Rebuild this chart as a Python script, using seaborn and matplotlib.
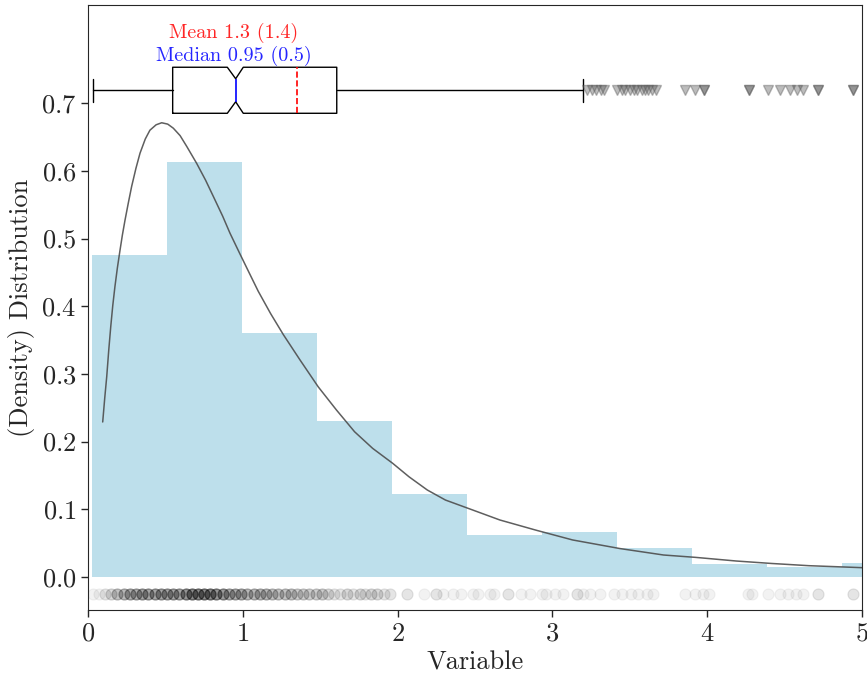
import numpy as np
import matplotlib
matplotlib.use("Agg")
import matplotlib.pyplot as plt
import seaborn as sns

# Histogram (density) read as bin edges and heights
bin_edges = [0.026, 0.511, 0.995, 1.480, 1.964, 2.449, 2.933, 3.418, 3.902, 4.387, 4.871, 5.356]
bin_heights = [0.476, 0.613, 0.360, 0.230, 0.123, 0.062, 0.066, 0.043, 0.019, 0.015, 0.021]

# Fitted density curve
curve_x = [0.095, 0.108, 0.121, 0.134, 0.147, 0.160, 0.174, 0.190, 0.207, 0.222,
           0.239, 0.260, 0.282, 0.310, 0.336, 0.370, 0.400, 0.440, 0.476, 0.515,
           0.551, 0.595, 0.638, 0.702, 0.760, 0.810, 0.870, 0.917, 0.980, 1.042,
           1.100, 1.180, 1.262, 1.370, 1.487, 1.605, 1.722, 1.839, 1.968, 2.074,
           2.192, 2.309, 2.461, 2.661, 2.897, 3.131, 3.437, 3.718, 3.925, 4.189,
           4.416, 4.658, 5.000]
curve_y = [0.229, 0.264, 0.296, 0.335, 0.370, 0.401, 0.429, 0.457, 0.483, 0.505,
           0.527, 0.552, 0.577, 0.604, 0.626, 0.647, 0.660, 0.668, 0.671, 0.669,
           0.663, 0.652, 0.636, 0.611, 0.586, 0.562, 0.533, 0.508, 0.478, 0.449,
           0.422, 0.389, 0.358, 0.3205, 0.281, 0.2467, 0.2146, 0.190, 0.168, 0.148,
           0.1285, 0.1137, 0.101, 0.0842, 0.069, 0.0547, 0.042, 0.0325, 0.029, 0.0236,
           0.020, 0.0167, 0.0138]

# Box-plot summary
box_q1, box_med, box_q3 = 0.547, 0.954, 1.607
box_whislo, box_whishi = 0.030, 3.198
box_cilo, box_cihi = 0.900, 1.003
box_mean = 1.348
box_fliers = [3.221, 3.254, 3.282, 3.312, 3.336, 3.415, 3.447, 3.469, 3.501, 3.527,
              3.549, 3.577, 3.598, 3.620, 3.641, 3.667, 3.857, 3.921, 3.979, 3.979,
              4.272, 4.272, 4.395, 4.470, 4.535, 4.578, 4.617, 4.718, 4.718,
              4.944, 4.944]

# Rug of observations: positions and how many observations sit at each
rug_pos = [0.03, 0.07, 0.11, 0.15, 0.19, 0.23, 0.27, 0.31, 0.35, 0.39, 0.43, 0.47,
           0.51, 0.55, 0.59, 0.63, 0.67, 0.71, 0.75, 0.79, 0.83, 0.87, 0.91, 0.95,
           0.99, 1.03, 1.07, 1.11, 1.15, 1.19, 1.23, 1.27, 1.31, 1.35, 1.39, 1.43,
           1.47, 1.51, 1.55, 1.59, 1.63, 1.67, 1.71, 1.757, 1.79, 1.83, 1.87, 1.91,
           1.95, 2.06, 2.17, 2.25, 2.295, 2.36, 2.41, 2.49, 2.52, 2.60, 2.62, 2.715,
           2.80, 2.855, 2.93, 2.96, 3.02, 3.07, 3.157, 3.20, 3.24, 3.31, 3.40, 3.45,
           3.51, 3.555, 3.61, 3.65, 3.857, 3.92, 3.975, 4.01, 4.266, 4.287, 4.395,
           4.47, 4.525, 4.575, 4.617, 4.718, 4.944]
rug_cnt = [1, 1, 2, 3, 5, 6, 7, 7, 8, 8, 8, 8,
           8, 8, 8, 10, 11, 11, 11, 11, 10, 9, 7, 7,
           7, 6, 6, 6, 6, 5, 5, 5, 5, 4, 4, 4,
           4, 4, 3, 2, 2, 3, 2, 3, 2, 3, 3, 2,
           2, 2, 1, 2, 1, 1, 1, 1, 1, 1, 1, 2,
           1, 1, 1, 1, 1, 1, 2, 1, 1, 1, 1, 1,
           1, 1, 1, 1, 1, 1, 1, 1, 1, 1, 1,
           1, 1, 1, 1, 2, 2]

mean_text = "Mean 1.3 (1.4)"
median_text = "Median 0.95 (0.5)"
x_label = "Variable"
y_label = "(Density) Distribution"

sns.set_style("ticks")
plt.rcParams["font.family"] = ["cmr10", "DejaVu Serif"]
plt.rcParams["mathtext.fontset"] = "cm"
plt.rcParams["axes.formatter.use_mathtext"] = True
plt.rcParams["axes.unicode_minus"] = False

fig = plt.figure(figsize=(8.67, 6.81), dpi=100)
ax = fig.add_axes([0.1015, 0.1043, 0.8927, 0.8884])

# histogram bars
centers = [(a + b) / 2 for a, b in zip(bin_edges[:-1], bin_edges[1:])]
sns.histplot(x=centers, weights=bin_heights, bins=bin_edges, stat="count",
             color="lightblue", alpha=0.8, linewidth=0, ax=ax)

# density curve
sns.lineplot(x=curve_x, y=curve_y, color="0.3", linewidth=1.1, alpha=0.9, ax=ax)

# rug of raw observations
rug_x = np.repeat(rug_pos, rug_cnt)
sns.scatterplot(x=rug_x, y=np.full(len(rug_x), -0.0251), color="black",
                alpha=0.05, s=64, linewidth=0.8, edgecolor="black", ax=ax,
                legend=False)

# notched horizontal box plot above the histogram
stats = [dict(med=box_med, q1=box_q1, q3=box_q3, whislo=box_whislo,
              whishi=box_whishi, cilo=box_cilo, cihi=box_cihi, mean=box_mean,
              fliers=box_fliers)]
ax.bxp(stats, positions=[0.719], widths=0.068, vert=False, shownotches=True,
       showmeans=True, meanline=True, manage_ticks=False,
       boxprops=dict(color="black", linewidth=1.0),
       whiskerprops=dict(color="black", linewidth=1.0),
       capprops=dict(color="black", linewidth=1.0),
       medianprops=dict(color="blue", linewidth=1.2),
       meanprops=dict(color="red", linestyle="--", linewidth=1.2),
       flierprops=dict(marker="v", markerfacecolor="0.35", markeredgecolor="0.35",
                       markersize=7, alpha=0.4))

ax.text(0.94, 0.804, mean_text, color="red", alpha=0.85, ha="center", va="center",
        fontsize=14.5)
ax.text(0.94, 0.769, median_text, color="blue", alpha=0.85, ha="center", va="center",
        fontsize=14.5)

ax.set_xlim(0, 5)
ax.set_ylim(-0.0487, 0.845)
ax.set_yticks([0.0, 0.1, 0.2, 0.3, 0.4, 0.5, 0.6, 0.7])
ax.set_xticks([0, 1, 2, 3, 4, 5])
ax.tick_params(labelsize=19, direction="out", length=5, width=1)
ax.set_xlabel(x_label, fontsize=19)
ax.set_ylabel(y_label, fontsize=19)
for sp in ax.spines.values():
    sp.set_visible(True)
    sp.set_color("0.15")

fig.savefig("out.png", dpi=100)
